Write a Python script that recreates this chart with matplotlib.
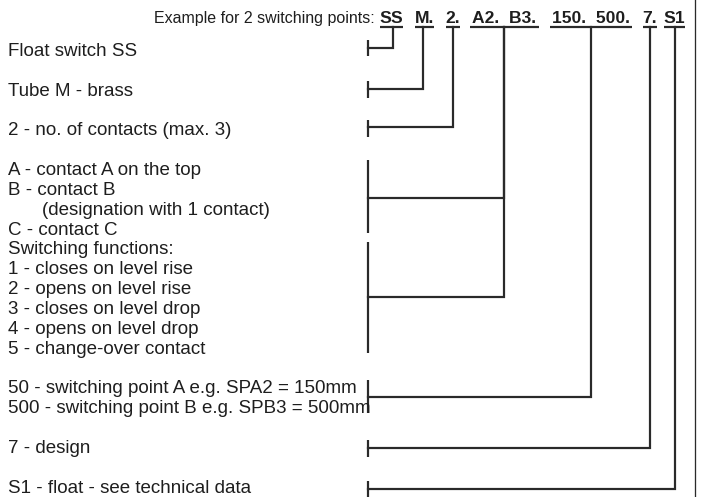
import matplotlib.pyplot as plt

plt.rcParams['font.family'] = ['Liberation Sans', 'DejaVu Sans']

# left-hand descriptions: (line number on a 20 px grid, text, indent)
label_lines = [2, 4, 6, 8, 9, 10, 11, 12, 13, 14, 15, 16, 17, 19, 20, 22, 24]
label_texts = [
    "Float switch SS",
    "Tube M - brass",
    "2 - no. of contacts (max. 3)",
    "A - contact A on the top",
    "B - contact B",
    "(designation with 1 contact)",
    "C - contact C",
    "Switching functions:",
    "1 - closes on level rise",
    "2 - opens on level rise",
    "3 - closes on level drop",
    "4 - opens on level drop",
    "5 - change-over contact",
    "50 - switching point A e.g. SPA2 = 150mm",
    "500 - switching point B e.g. SPB3 = 500mm",
    "7 - design",
    "S1 - float - see technical data",
]
label_indent = [0, 0, 0, 0, 0, 34, 0, 0, 0, 0, 0, 0, 0, 0, 0, 0, 0]

# order code segments and the span of their underline
code_parts = ["SS", "M.", "2.", "A2.  B3.", "150.  500.", "7.", "S1"]
code_x0 = [380, 415, 446, 470, 550, 643, 664]
code_x1 = [403, 434, 460, 539, 632, 657, 685]
riser_x = [393, 423, 453, 504, 591, 650, 675]

# brackets on the left: (top, bottom, join y, which code part)
brk_top = [40, 81, 120, 160, 242, 380, 440, 481]
brk_bot = [56, 98, 137, 233, 353, 413, 457, 497]
brk_join = [48, 89, 127, 198, 297, 397, 448, 489]
brk_part = [0, 1, 2, 3, 3, 4, 5, 6]

W, H = 704, 497
fig = plt.figure(figsize=(W / 100, H / 100), dpi=100)
ax = fig.add_axes([0, 0, 1, 1])
ax.set_xlim(0, W)
ax.set_ylim(H, 0)
ax.axis('off')

ink = '#1e1e1e'
line_c = '#2a2a2a'
px = 0.72  # px -> pt at dpi 100

for k, txt, ind in zip(label_lines, label_texts, label_indent):
    ax.text(8 + ind, 16.3 + 19.85 * k, txt, fontsize=18.8 * px, color=ink,
            ha='left', va='baseline')

ax.text(375, 23, "Example for 2 switching points:", fontsize=16 * px,
        color=ink, ha='right', va='baseline')

for part, x0, x1, xr in zip(code_parts, code_x0, code_x1, riser_x):
    ax.text((x0 + x1) / 2, 23, part, fontsize=17.5 * px, fontweight='bold',
            color=ink, ha='center', va='baseline')
    ax.plot([x0, x1], [27, 27], color=line_c, lw=2.2 * px, solid_capstyle='butt')

bx = 368
for t, b, j, p in zip(brk_top, brk_bot, brk_join, brk_part):
    xr = riser_x[p]
    ax.plot([bx, bx], [t, b], color=line_c, lw=2.2 * px, solid_capstyle='butt')
    ax.plot([bx, xr, xr], [j, j, 27], color=line_c, lw=2.2 * px,
            solid_capstyle='projecting', solid_joinstyle='miter')

# frame line on the right
ax.plot([695, 695], [0, H], color=line_c, lw=1.3 * px)

fig.savefig("out.png", dpi=100)
